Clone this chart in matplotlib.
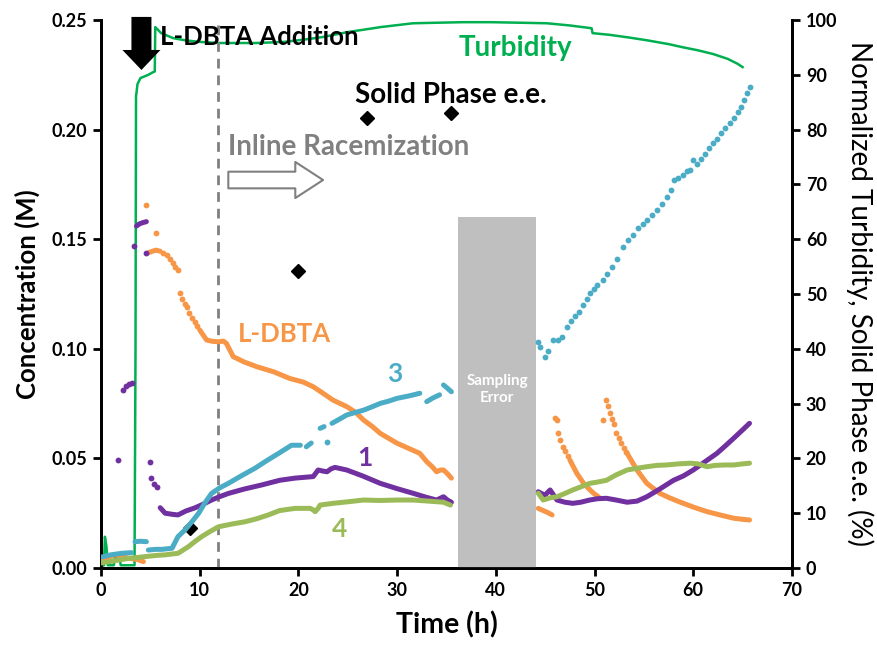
import numpy as np
import matplotlib
matplotlib.use("Agg")
import matplotlib.pyplot as plt

plt.rcParams['font.family'] = ['Lato', 'DejaVu Sans']
plt.rcParams['font.weight'] = 'bold'

nan = np.nan

# ---- Concentration data (M) vs time (h) ----
# L-DBTA: dense segments (nan separates breaks in sampling)
ldbta_t = [0.1, 0.8, 1.4, 2.0, 2.8, 3.6, 4.3, nan,
           4.8, 5.2, 5.6, 6.0, nan,
           10.0, 10.7, 11.3, 11.9, 12.4, 12.7, 13.4, 14.5, 15.8, 17.5, 19.1, 20.5, 21.5,
           22.5, 23.5, 24.9, 25.8, 26.6, 27.5, 28.3, 29.2, 30.0, 31.2, 32.3, 33.0,
           33.6, 34.0, 34.4, 34.7, 35.1, 35.5, nan,
           44.3, 44.8, 45.3, 45.7, nan,
           47.5, 48.2, 48.9, 49.5, 49.9, 50.3, 50.55, nan,
           53.3, 54.3, 55.3, 56.6, 57.6, 58.7, 60.0, 61.4, 62.8, 64.1, 65.0, 65.7]
ldbta_c = [0.0037, 0.005, 0.006, 0.0055, 0.0044, 0.004, 0.0029, nan,
           0.1438, 0.1445, 0.145, 0.1445, nan,
           0.1086, 0.104, 0.1034, 0.1032, 0.1035, 0.1025, 0.0964, 0.094, 0.0918, 0.0895, 0.0865, 0.0848, 0.0827,
           0.0797, 0.0766, 0.0736, 0.071, 0.0675, 0.0645, 0.0614, 0.059, 0.0569, 0.0545, 0.0523, 0.0485,
           0.046, 0.0439, 0.0447, 0.0447, 0.043, 0.041, nan,
           0.0272, 0.0262, 0.0252, 0.0242, nan,
           0.0493, 0.0432, 0.0386, 0.0358, 0.0341, 0.0328, 0.0318, nan,
           0.0523, 0.0447, 0.0386, 0.0341, 0.032, 0.030, 0.0278, 0.0257, 0.0241, 0.0227, 0.0222, 0.0219]
# L-DBTA: isolated samples
ldbta_dot_t = [4.6, 5.6, 6.3, 6.65, 7.0, 7.3, 7.55, 7.8, 8.0, 8.25, 8.5, 8.7, 8.95, 9.2, 9.5, 9.75,
               46.0, 46.15, 46.3, 46.55, 46.8, 47.05, 47.3,
               50.9, 51.2, 51.4, 51.6, 51.8, 52.0, 52.2, 52.45, 52.7, 52.95, 53.15]
ldbta_dot_c = [0.1656, 0.1527, 0.1438, 0.1428, 0.141, 0.139, 0.1375, 0.136, 0.1253, 0.1225, 0.1205, 0.119,
               0.1165, 0.114, 0.112, 0.1105,
               0.0683, 0.0675, 0.0614, 0.0585, 0.0553, 0.0535, 0.051,
               0.0675, 0.0766, 0.074, 0.0706, 0.068, 0.0655, 0.0614, 0.0595, 0.0572, 0.0548, 0.053]

# Compound 1
c1_t = [3.6, 3.9, 4.2, 4.6, nan,
        6.0, 6.5, 7.2, 7.8, 8.6, 9.5, 10.3, 11.2, 12.0, 12.9, 14.5, 16.3, 18.1, 19.65, 21.5,
        22.0, 22.5, 22.9, 23.3, 23.7, 24.9, 26.5, 28.3, 30.0, 31.6, 33.0, 34.0, 34.7, 35.1, 35.5, nan,
        44.3, 44.7, 45.0, 45.5, 46.2, 47.0, 47.8, 48.6, 49.5, 50.3, 51.2, 52.2, 53.3, 54.3, 55.3,
        56.6, 58.0, 59.0, 60.0, 61.2, 62.4, 63.2, 64.1, 65.0, 65.7]
c1_c = [0.156, 0.157, 0.1575, 0.158, nan,
        0.0275, 0.025, 0.0245, 0.0242, 0.026, 0.0274, 0.029, 0.031, 0.0325, 0.034, 0.036, 0.0379, 0.040,
        0.041, 0.0417,
        0.0447, 0.0442, 0.0439, 0.0452, 0.0459, 0.0447, 0.042, 0.0386, 0.0362, 0.0341, 0.0322, 0.031,
        0.0325, 0.031, 0.030, nan,
        0.0348, 0.0338, 0.0333, 0.0356, 0.031, 0.030, 0.0295, 0.030, 0.031, 0.0316, 0.0318, 0.031,
        0.030, 0.0305, 0.0325, 0.036, 0.040, 0.042, 0.0447, 0.0485, 0.0523, 0.0555, 0.0592, 0.063, 0.066]
c1_dot_t = [1.75, 2.2, 2.5, 2.8, 3.1, 3.3, 4.6, 5.0, 5.1, 5.4, 5.7]
c1_dot_c = [0.0493, 0.081, 0.083, 0.084, 0.0845, 0.147, 0.1438, 0.0485, 0.041, 0.0383, 0.037]

# Compound 3
c3_t = [0.07, 1.0, 2.1, 3.1, nan,
        3.45, 4.0, 4.6, nan,
        4.8, 5.5, 6.15, 7.2, 7.8, 8.5, 9.2, 9.9, 10.5, 11.2, 12.0, 12.9, 14.2, 15.6, 16.8, 18.0,
        19.3, 20.2, nan,
        20.8, 21.3, nan,
        22.2, 22.6, nan,
        23.4, 24.2, 24.9, 25.8, 26.6, 27.5, 28.3, 29.2, 30.0, 31.2, 32.3, nan,
        33.0, 33.6, 34.3, nan,
        34.7, 35.1, 35.5]
c3_c = [0.005, 0.006, 0.0067, 0.007, nan,
        0.012, 0.0122, 0.012, nan,
        0.0082, 0.0085, 0.0085, 0.009, 0.0143, 0.0173, 0.021, 0.025, 0.0295, 0.034, 0.0365, 0.0386,
        0.042, 0.0455, 0.049, 0.0523, 0.056, 0.056, nan,
        0.0553, 0.057, nan,
        0.0637, 0.0645, nan,
        0.066, 0.068, 0.0698, 0.071, 0.072, 0.0736, 0.0751, 0.0762, 0.0774, 0.0785, 0.0797, nan,
        0.0759, 0.0775, 0.079, nan,
        0.0835, 0.082, 0.0804]
c3_dot_t = [22.9, 44.3, 44.5, 45.0, 45.3, 45.8, 46.3, 46.7, 47.2, 47.6, 48.0, 48.4, 48.8, 49.2, 49.5,
            49.9, 50.3, 50.9, 51.3, 51.8, 52.3, 52.9, 53.4, 53.9, 54.4, 54.9, 55.3, 55.8, 56.3,
            56.8, 57.3, 57.7, 58.0, 58.5, 59.0, 59.4, 59.7, 60.0, 60.4, 60.8, 61.2, 61.6, 62.0,
            62.4, 62.8, 63.2, 63.7, 64.1, 64.5, 64.8, 65.1, 65.4, 65.7]
c3_dot_c = [0.0576, 0.1032, 0.101, 0.0964, 0.099, 0.104, 0.104, 0.1055, 0.110, 0.1125, 0.115, 0.117,
            0.120, 0.1225, 0.1253, 0.1275, 0.129, 0.1314, 0.134, 0.1375, 0.141, 0.1466, 0.1495,
            0.152, 0.155, 0.157, 0.1588, 0.161, 0.1635, 0.166, 0.1694, 0.1725, 0.177, 0.178, 0.1795,
            0.181, 0.1816, 0.186, 0.1845, 0.1865, 0.189, 0.1915, 0.1937, 0.1958, 0.1985, 0.2005,
            0.2029, 0.2055, 0.208, 0.2105, 0.2135, 0.2165, 0.2196]

# Compound 4
c4_t = [0.07, 1.0, 2.0, 2.8, 3.7, 4.5, 5.5, 6.5, 7.8, 8.85, 9.5, 10.2, 11.0, 11.9, 13.2, 14.6,
        15.8, 16.95, 18.1, 19.65, 21.2, 21.5, 21.7, 22.0, 22.2, 23.5, 25.0, 26.6, 28.3, 30.0,
        31.6, 33.2, 34.7, 35.4, nan,
        44.3, 44.8, 45.5, 46.2, 47.0, 47.8, 48.6, 49.5, 50.3, 51.2, 52.2, 53.3, 54.3, 55.3,
        56.3, 57.3, 58.5, 59.7, 60.5, 61.4, 62.2, 63.2, 64.1, 65.0, 65.7]
c4_c = [0.0023, 0.003, 0.0038, 0.0044, 0.0048, 0.0052, 0.0057, 0.006, 0.0067, 0.0097, 0.012, 0.0143,
        0.0165, 0.0188, 0.020, 0.0211, 0.0225, 0.0242, 0.0262, 0.0272, 0.0272, 0.0265, 0.0257,
        0.0272, 0.0287, 0.0295, 0.0302, 0.031, 0.0308, 0.031, 0.031, 0.0305, 0.030, 0.0287, nan,
        0.0341, 0.031, 0.032, 0.0325, 0.034, 0.0356, 0.037, 0.0386, 0.0392, 0.040, 0.0425, 0.0447,
        0.0455, 0.0462, 0.0468, 0.047, 0.0475, 0.0478, 0.0475, 0.0462, 0.0468, 0.047, 0.047,
        0.0475, 0.0478]

# ---- Right axis data (%) ----
turb_t = [0.0, 0.3, 0.4, 0.55, 0.7, 1.3, 1.4, 1.9, 2.0, 3.4, 3.5, 3.55, 3.7, 4.0, 4.8, 5.3, 5.45,
          5.5, 6.1, 7.3, 8.5, 10.0, 12.0, 15.8, 18.5, 20.5, 22.5, 25.0, 27.6, 28.3, 31.6, 34.0,
          36.7, 39.5, 42.5, 45.2, 47.5, 49.7, 49.8, 51.5, 53.5, 55.3, 57.5, 59.0, 60.4, 62.0,
          63.5, 64.5, 65.0]
turb_v = [0.3, 0.5, 5.7, 4.0, 0.5, 0.5, 1.8, 1.8, 0.5, 0.5, 40.0, 86.0, 88.3, 89.4, 90.0, 90.5, 90.6,
          98.7, 97.6, 96.7, 96.3, 96.0, 95.8, 95.8, 96.0, 96.4, 96.9, 97.8, 98.5, 98.7, 99.4, 99.5,
          99.6, 99.6, 99.5, 99.4, 99.0, 98.5, 97.6, 97.3, 96.8, 96.3, 95.6, 95.0, 94.5, 93.8,
          92.9, 92.0, 91.4]

ee_t = [9.0, 20.0, 26.9, 35.5]
ee_v = [7.3, 54.2, 82.1, 83.0]

# Interval where samples were lost
gap_start, gap_end, gap_height = 36.2, 44.1, 0.16

col_ldbta = '#f79646'
col_1 = '#7030a0'
col_3 = '#4bacc6'
col_4 = '#9bbb59'
col_turb = '#00b050'

fig = plt.figure(figsize=(8.78, 6.45), dpi=100)
ax = fig.add_axes([0.115, 0.1194, 0.787, 0.8496])
ax2 = ax.twinx()

ax.set_xlim(0, 70)
ax.set_ylim(0, 0.25)
ax2.set_ylim(0, 100)

# Sampling error block
ax.bar([(gap_start + gap_end) / 2], [gap_height], width=gap_end - gap_start,
       color='#bfbfbf', zorder=1)
ax.text((gap_start + gap_end) / 2, 0.0815, 'Sampling\nError', color='white',
        ha='center', va='center', fontsize=11, fontweight='bold', linespacing=1.3, zorder=2)

# Start of inline racemization
ax.axvline(11.85, color='#808080', lw=2, ls=(0, (3.5, 2.5)), zorder=1)

series = [
    (ldbta_t, ldbta_c, ldbta_dot_t, ldbta_dot_c, col_ldbta),
    (c1_t, c1_c, c1_dot_t, c1_dot_c, col_1),
    (c3_t, c3_c, c3_dot_t, c3_dot_c, col_3),
    (c4_t, c4_c, [], [], col_4),
]
for t, c, dt, dc, col in series:
    ax.plot(t, c, color=col, lw=3.6, solid_capstyle='round', solid_joinstyle='round', zorder=3)
    if dt:
        ax.plot(dt, dc, 'o', color=col, ms=4.2, mec='none', zorder=3)

ax2.plot(turb_t, turb_v, color=col_turb, lw=1.8, zorder=4)
ax2.plot(ee_t, ee_v, 'D', color='black', ms=7, zorder=5)

# Axes styling
for a in (ax, ax2):
    a.spines['top'].set_visible(False)
    for s in ('left', 'right', 'bottom'):
        a.spines[s].set_linewidth(2)
ax.set_xticks(range(0, 71, 10))
ax.set_yticks(np.arange(0, 0.2501, 0.05))
ax.set_yticklabels([f'{v:.2f}' for v in np.arange(0, 0.2501, 0.05)])
ax2.set_yticks(range(0, 101, 10))
ax.tick_params(axis='both', direction='out', length=6, width=2, labelsize=13, pad=4)
ax2.tick_params(axis='y', direction='out', length=6, width=2, labelsize=13, pad=4)
for lab in ax.get_xticklabels() + ax.get_yticklabels() + ax2.get_yticklabels():
    lab.set_fontweight('bold')

ax.set_xlabel('Time (h)', fontsize=20.5, fontweight='bold', labelpad=9)
ax.set_ylabel('Concentration (M)', fontsize=18.5, fontweight='bold', labelpad=8)
ax2.set_ylabel('Normalized Turbidity, Solid Phase e.e. (%)', fontsize=20, fontweight='normal',
               rotation=270, labelpad=26)

ax.set_zorder(ax2.get_zorder() + 1)
ax.patch.set_visible(False)

# Annotations
ax.annotate('', xy=(4.1, 0.2272), xytext=(4.1, 0.2514),
            arrowprops=dict(arrowstyle='simple,head_width=1.37,head_length=0.72,tail_width=0.72',
                            mutation_scale=20, color='black', lw=0, shrinkA=0, shrinkB=0),
            annotation_clip=False, zorder=6)
ax.text(6.0, 0.2423, 'L-DBTA Addition', fontsize=18.5, fontweight='bold', color='black',
        va='center', ha='left', zorder=6)
ax.text(36.2, 0.237, 'Turbidity', fontsize=20, fontweight='bold', color=col_turb,
        va='center', ha='left', zorder=6)
ax.text(25.7, 0.216, 'Solid Phase e.e.', fontsize=20, fontweight='bold', color='black',
        va='center', ha='left', zorder=6)
ax.text(12.9, 0.192, 'Inline Racemization', fontsize=20, fontweight='bold', color='#808080',
        va='center', ha='left', zorder=6)
ax.annotate('', xy=(22.5, 0.177), xytext=(12.9, 0.177),
            arrowprops=dict(arrowstyle='simple,head_width=1.3,head_length=1.0,tail_width=0.6',
                            mutation_scale=20, fc='white', ec='#808080', lw=1.5,
                            shrinkA=0, shrinkB=0), zorder=6)
ax.text(13.9, 0.1067, 'L-DBTA', fontsize=18.5, fontweight='bold', color=col_ldbta,
        va='center', ha='left', zorder=6)
ax.text(29.8, 0.0885, '3', fontsize=19, fontweight='bold', color=col_3,
        va='center', ha='center', zorder=6)
ax.text(26.7, 0.050, '1', fontsize=19, fontweight='bold', color=col_1,
        va='center', ha='center', zorder=6)
ax.text(24.2, 0.018, '4', fontsize=19, fontweight='bold', color=col_4,
        va='center', ha='center', zorder=6)

fig.savefig('out.png', dpi=100)
